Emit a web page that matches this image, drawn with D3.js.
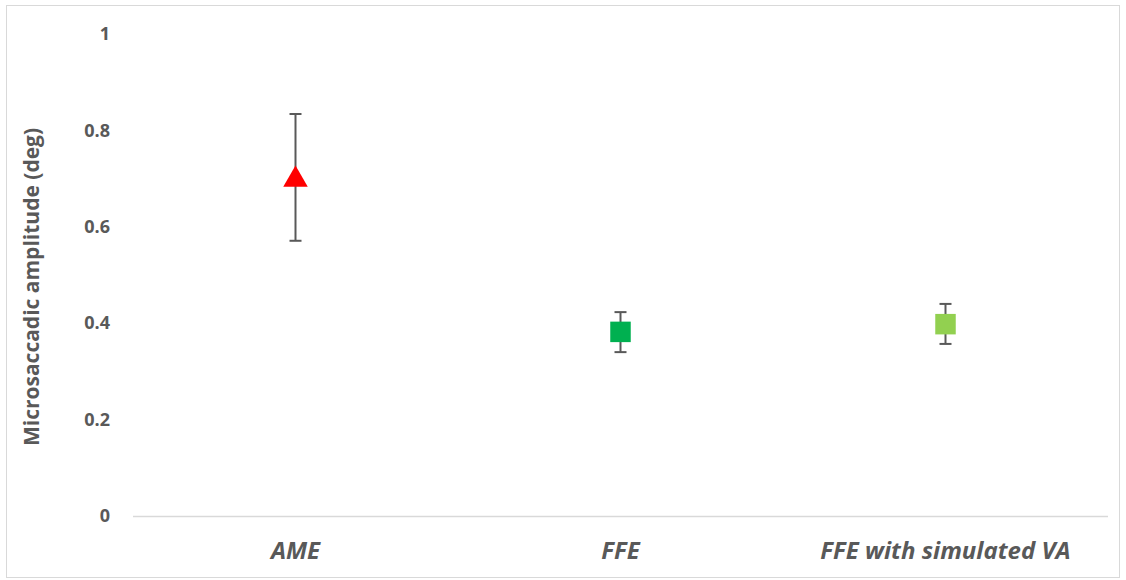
<!DOCTYPE html>
<html>
<head>
<meta charset="utf-8">
<script src="https://cdn.jsdelivr.net/npm/d3@7"></script>
<style>
  html, body { margin: 0; padding: 0; background: #fff; }
  svg { display: block; }
</style>
</head>
<body>
<svg id="chart" width="1126" height="580"></svg>
<script>
// Conditions and mean microsaccade amplitude with error range
const categories = ["AME", "FFE", "FFE with simulated VA"];
const means = [0.701, 0.382, 0.398];
const upper = [0.834, 0.423, 0.440];
const lower = [0.571, 0.340, 0.357];
const markerShapes = ["triangle", "square", "square"];
const markerColors = ["#FF0000", "#00B050", "#92D050"];
const yTicks = [0, 0.2, 0.4, 0.6, 0.8, 1];
const yTitle = "Microsaccadic amplitude (deg)";

const svg = d3.select("#chart");
const W = 1126, H = 580;
const margin = { left: 133, right: 18, top: 34, bottom: 64 };

// Outer chart frame
svg.append("rect")
  .attr("x", 6.5).attr("y", 5.5)
  .attr("width", W - 13).attr("height", H - 8)
  .attr("fill", "#fff").attr("stroke", "#d9d9d9").attr("stroke-width", 1);

const x = d3.scaleBand()
  .domain(categories)
  .range([margin.left, W - margin.right]);

const y = d3.scaleLinear()
  .domain([0, 1])
  .range([H - margin.bottom, margin.top]);

const textColor = "#595959";
const font = "'Open Sans', 'Liberation Sans', sans-serif";

// Y axis: labels only, no line
const yAxis = d3.axisLeft(y).tickValues(yTicks).tickSize(0).tickPadding(0)
  .tickFormat(d3.format("~g"));
const gy = svg.append("g").attr("transform", `translate(${margin.left - 23},0)`).call(yAxis);
gy.select(".domain").remove();
gy.selectAll("text")
  .attr("fill", textColor)
  .style("font-family", font)
  .style("font-size", "18px")
  .style("font-weight", "bold");

// Baseline at zero
svg.append("line")
  .attr("x1", margin.left).attr("x2", W - margin.right)
  .attr("y1", y(0) + 0.5).attr("y2", y(0) + 0.5)
  .attr("stroke", "#d9d9d9").attr("stroke-width", 1.5);

// X axis category labels
const xAxis = d3.axisBottom(x).tickSize(0).tickPadding(0);
const gx = svg.append("g").attr("transform", `translate(0,${y(0) + 34})`).call(xAxis);
gx.select(".domain").remove();
gx.selectAll("text")
  .attr("fill", textColor)
  .attr("dy", "0.36em")
  .style("font-family", font)
  .style("font-size", "24px")
  .style("font-weight", "bold")
  .style("font-style", "italic");

// Y axis title
svg.append("text")
  .attr("transform", `translate(39,${(y(0) + y(1)) / 2 + 12}) rotate(-90)`)
  .attr("text-anchor", "middle")
  .attr("fill", textColor)
  .style("font-family", font)
  .style("font-size", "21px")
  .style("font-weight", "bold")
  .text(yTitle);

const data = categories.map((c, i) => ({
  cat: c, mean: means[i], hi: upper[i], lo: lower[i],
  shape: markerShapes[i], color: markerColors[i]
}));

const cx = d => x(d.cat) + x.bandwidth() / 2;
const capHalf = 6;

// Error bars
const eb = svg.append("g").attr("stroke", "#595959").attr("stroke-width", 2);
data.forEach(d => {
  eb.append("line").attr("x1", cx(d)).attr("x2", cx(d)).attr("y1", y(d.hi)).attr("y2", y(d.lo));
  eb.append("line").attr("x1", cx(d) - capHalf).attr("x2", cx(d) + capHalf).attr("y1", y(d.hi)).attr("y2", y(d.hi));
  eb.append("line").attr("x1", cx(d) - capHalf).attr("x2", cx(d) + capHalf).attr("y1", y(d.lo)).attr("y2", y(d.lo));
});

// Markers
const symbolFor = { triangle: d3.symbolTriangle, square: d3.symbolSquare };
const sizeFor = { triangle: 260, square: 420 };
svg.append("g").selectAll("path")
  .data(data)
  .join("path")
  .attr("transform", d => `translate(${cx(d)},${y(d.mean) + (d.shape === "triangle" ? 1.5 : 0)})`)
  .attr("d", d => d3.symbol(symbolFor[d.shape], sizeFor[d.shape])())
  .attr("fill", d => d.color);
</script>
</body>
</html>
